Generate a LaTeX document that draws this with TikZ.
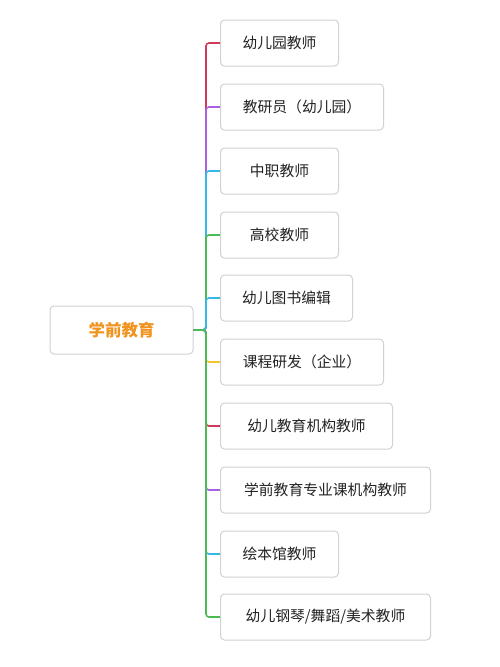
\documentclass[tikz,border=0pt]{standalone}
\usepackage{fontspec}
\setmainfont{Noto Sans CJK SC}
\usetikzlibrary{positioning}
\definecolor{boxgray}{HTML}{D2D2D2}
\definecolor{textgray}{HTML}{222222}
\definecolor{rootorange}{HTML}{F0941F}
\definecolor{brred}{HTML}{D03A5C}
\definecolor{brpurple}{HTML}{A862E0}
\definecolor{brcyan}{HTML}{35B8E6}
\definecolor{brgreen}{HTML}{4DBB55}
\definecolor{bryellow}{HTML}{F2C530}

\tikzset{
  jobbox/.style={draw=boxgray, line width=1pt, rounded corners=4pt, fill=white,
                 anchor=west, minimum height=46pt, inner sep=0pt,
                 text=textgray, font=\fontsize{14.8}{16}\selectfont},
  branch/.style={line width=1.6pt, rounded corners=3pt}
}

\begin{document}
\begin{tikzpicture}[x=1pt, y=-1pt]
  \useasboundingbox[fill=white] (0,0) rectangle (500,667);

  % root
  \node[draw=boxgray, line width=1pt, rounded corners=4pt, fill=white,
        minimum width=143pt, minimum height=48pt, inner sep=0pt,
        text=rootorange, font=\fontsize{16.5}{18}\selectfont\bfseries]
        (root) at (121.5,330) {学前教育};

  % jobs
  \node[jobbox, minimum width=118pt] (kg)      at (220,43)  {幼儿园教师};
  \node[jobbox, minimum width=163pt] (jyy)     at (220,107) {教研员（幼儿园）};
  \node[jobbox, minimum width=118pt] (zz)      at (220,171) {中职教师};
  \node[jobbox, minimum width=118pt] (gx)      at (220,235) {高校教师};
  \node[jobbox, minimum width=132pt] (book)    at (220,298) {幼儿图书编辑};
  \node[jobbox, minimum width=163pt] (kc)      at (220,362) {课程研发（企业）};
  \node[jobbox, minimum width=172pt] (jg)      at (220,426) {幼儿教育机构教师};
  \node[jobbox, minimum width=210pt] (zyk)     at (220,490) {学前教育专业课机构教师};
  \node[jobbox, minimum width=118pt] (hb)      at (220,554) {绘本馆教师};
  \node[jobbox, minimum width=210pt] (art)     at (220,617) {幼儿钢琴/舞蹈/美术教师};

  % connectors, later ones on top
  \coordinate (trunk) at (206,330);
  \foreach \job/\col in {kg/brred, jyy/brpurple, zz/brcyan, gx/brgreen, book/brcyan,
                         kc/bryellow, jg/brred, zyk/brpurple, hb/brcyan, art/brgreen}
    \draw[branch, draw=\col] (root.east) -- (trunk) |- (\job.west);
\end{tikzpicture}
\end{document}
